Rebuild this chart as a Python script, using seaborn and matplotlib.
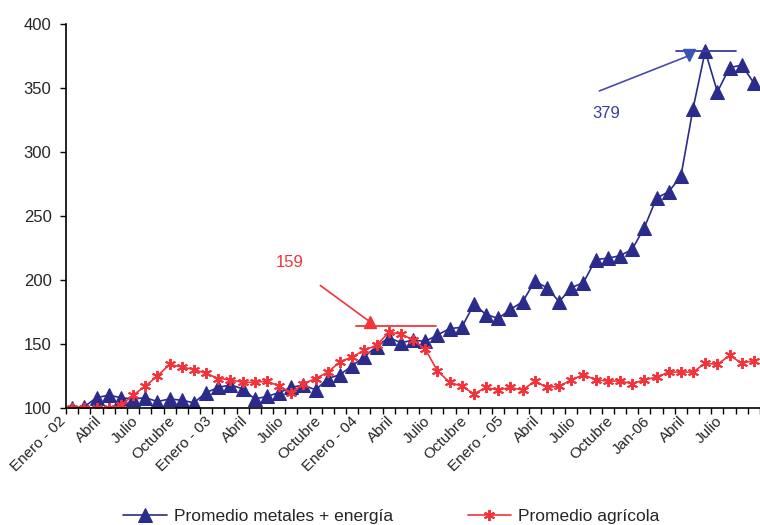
import numpy as np
import pandas as pd
import matplotlib
matplotlib.use("Agg")
import matplotlib.pyplot as plt
import matplotlib.transforms as mtransforms
import seaborn as sns

# datos mensuales, enero 2002 - septiembre 2006 (indice 100 = enero 2002)
metales = [100, 101, 108, 110, 108, 107, 108, 105, 107, 106,
           104, 112, 116, 118, 115, 107, 109, 112, 116, 118,
           114, 123, 126, 133, 140, 148, 155, 151, 153, 152,
           157, 162, 163, 181, 173, 170, 177, 183, 199, 194,
           183, 194, 198, 216, 217, 219, 224, 241, 264, 269,
           281, 334, 379, 347, 366, 368, 354]
agricola = [100, 100, 100, 100, 102, 110, 117, 125, 134, 132,
            130, 127, 123, 122, 120, 120, 121, 117, 112, 119,
            123, 128, 136, 140, 145, 149, 159, 158, 153, 146,
            129, 120, 117, 111, 116, 114, 116, 114, 121, 116,
            117, 122, 126, 122, 121, 121, 119, 122, 124, 128,
            128, 128, 135, 134, 141, 135, 137]
etiquetas = ["Enero - 02", "Abril", "Julio", "Octubre",
             "Enero - 03", "Abril", "Julio", "Octubre",
             "Enero - 04", "Abril", "Julio", "Octubre",
             "Enero - 05", "Abril", "Julio", "Octubre",
             "Jan-06", "Abril", "Julio"]
series = ["Promedio metales + energía", "Promedio agrícola"]

azul = "#2B2B8C"
rojo = "#F2333A"

sns.set_style("white")
plt.rcParams["font.family"] = ["Liberation Sans", "DejaVu Sans"]

mes = np.arange(len(metales))
df = pd.DataFrame({
    "mes": np.concatenate([mes, mes]),
    "valor": metales + agricola,
    "serie": [series[0]] * len(metales) + [series[1]] * len(agricola),
})

fig = plt.figure(figsize=(7.6, 5.25), dpi=100)
ax = fig.add_axes([0.087, 0.223, 0.913, 0.731])

sns.lineplot(data=df[df["serie"] == series[0]], x="mes", y="valor", ax=ax,
             color=azul, lw=1.2, marker="^", markersize=9.5,
             markeredgecolor=azul, label=series[0])
sns.lineplot(data=df[df["serie"] == series[1]], x="mes", y="valor", ax=ax,
             color=rojo, lw=1.2, marker=(6, 2, 0), markersize=8,
             markeredgewidth=1.4, markeredgecolor=rojo, label=series[1])

# anotacion del maximo (metales)
imax = int(np.argmax(metales))
vmax = metales[imax]
ax.plot([imax - 2.4, imax + 2.5], [vmax, vmax], color="#3C3CA0", lw=1.3)
ax.plot(imax - 1.3, vmax - 3.5, marker="v", color="#3A55B0", markersize=8)
ax.annotate("", xy=(imax - 1.3, vmax - 3.5), xytext=(imax - 8.9, vmax - 32),
            arrowprops=dict(arrowstyle="-", color="#4A4AAA", lw=1.2))
ax.text(imax - 8.1, vmax - 49, str(vmax), color="#3C3C9C", fontsize=12,
        ha="center", va="center")

# anotacion del maximo (agricola)
jmax = int(np.argmax(agricola))
amax = agricola[jmax]
ax.plot([jmax - 2.7, jmax + 3.9], [amax + 5, amax + 5], color=rojo, lw=1.3)
ax.plot(jmax - 1.5, amax + 8, marker="^", color=rojo, markersize=8)
ax.annotate("", xy=(jmax - 1.5, amax + 8), xytext=(jmax - 5.8, amax + 38),
            arrowprops=dict(arrowstyle="-", color=rojo, lw=1.2))
ax.text(jmax - 8.1, amax + 55, str(amax), color=rojo, fontsize=12,
        ha="center", va="center")

ax.set_yticks(np.arange(100, 401, 50))
ax.set_xticks(np.arange(-0.5, len(metales), 1))
ax.set_xticklabels([])
ax.set_xlim(-0.5, len(metales) - 0.5)
ax.set_ylim(100, 400)

# etiquetas trimestrales giradas, algo desplazadas a la izquierda
trans = mtransforms.blended_transform_factory(ax.transData, ax.transAxes)
trans = trans + mtransforms.ScaledTranslation(-0.09, -0.11, fig.dpi_scale_trans)
for pos, txt in zip(mes[::3], etiquetas):
    ax.text(pos, 0, txt, transform=trans, rotation=45, ha="right",
            va="center", rotation_mode="anchor", fontsize=11)

ax.tick_params(axis="x", length=4, width=1, color="black", direction="out",
               bottom=True)
ax.tick_params(axis="y", length=4.5, width=1, color="black", direction="out",
               left=True, labelsize=12, pad=6)
ax.set_xlabel("")
ax.set_ylabel("")
for s in ["top", "right"]:
    ax.spines[s].set_visible(False)
for s in ["left", "bottom"]:
    ax.spines[s].set_color("black")
    ax.spines[s].set_linewidth(1.2)

ax.legend(loc="center", ncol=2,
          bbox_to_anchor=(0.515, 0.016), bbox_transform=fig.transFigure,
          frameon=False, fontsize=12.5, handlelength=2.5, columnspacing=4.3,
          handletextpad=0.4)

fig.savefig("out.png", dpi=100)
